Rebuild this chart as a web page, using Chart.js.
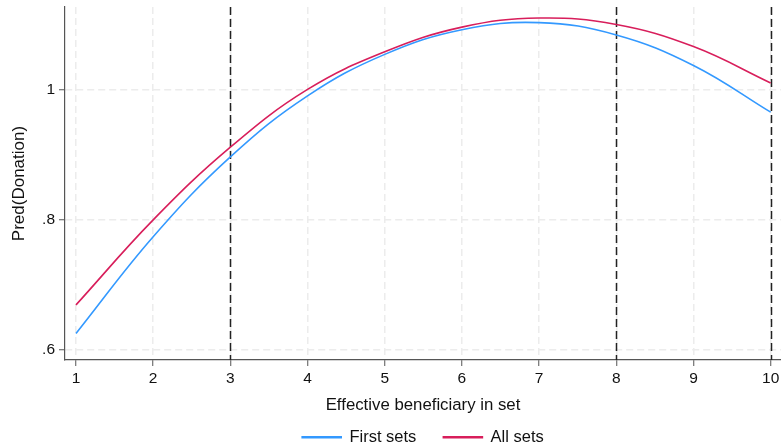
<!DOCTYPE html>
<html>
<head>
<meta charset="utf-8">
<script src="https://cdn.jsdelivr.net/npm/chart.js@4"></script>
<style>
  html, body { margin: 0; padding: 0; background: #fff; }
  #wrap { width: 781px; height: 447px; }
</style>
</head>
<body>
<div id="wrap"><canvas id="grafico" width="781" height="447"></canvas></div>
<script>
// valores
const beneficiarios = [1, 2, 3, 4, 5, 6, 7, 8, 9, 10];
const primeirosSets = [0.625, 0.774, 0.897, 0.991, 1.055, 1.093, 1.104, 1.085, 1.038, 0.966];
const todosSets = [0.669, 0.800, 0.912, 1.001, 1.059, 1.097, 1.111, 1.101, 1.067, 1.011];
const xTicks = [1, 2, 3, 4, 5, 6, 7, 8, 9, 10];
const yTicks = [0.6, 0.8, 1.0];
const linhasRef = [3, 8, 10];

const fonte = "'Liberation Sans', Arial, Helvetica, sans-serif";

function pontos(valores) {
    return beneficiarios.map((x, i) => ({ x: x, y: valores[i] }));
}

// linhas verticais tracejadas (pretas)
const pluginLinhas = {
    id: 'linhasRef',
    beforeDatasetsDraw(chart) {
        const { ctx, chartArea, scales } = chart;
        ctx.save();
        ctx.strokeStyle = '#222';
        ctx.lineWidth = 1.5;
        ctx.setLineDash([8, 4]);
        linhasRef.forEach(v => {
            const px = Math.round(scales.x.getPixelForValue(v)) + 0.5;
            ctx.beginPath();
            ctx.moveTo(px, chartArea.top);
            ctx.lineTo(px, chartArea.bottom);
            ctx.stroke();
        });
        ctx.restore();
    }
};

const ctx = document.getElementById('grafico').getContext('2d');
new Chart(ctx, {
    type: 'line',
    data: {
        datasets: [
            {
                label: 'First sets',
                data: pontos(primeirosSets),
                borderColor: '#3399ff',
                backgroundColor: '#3399ff',
                borderWidth: 1.6,
                pointRadius: 0,
                tension: 0.4
            },
            {
                label: 'All sets',
                data: pontos(todosSets),
                borderColor: '#d81e5b',
                backgroundColor: '#d81e5b',
                borderWidth: 1.6,
                pointRadius: 0,
                tension: 0.4
            }
        ]
    },
    options: {
        responsive: false,
        animation: false,
        layout: { padding: { top: 7, right: 0, bottom: 0, left: 0 } },
        plugins: {
            tooltip: { enabled: false },
            legend: {
                position: 'bottom',
                fullSize: false,
                maxHeight: 45,
                labels: {
                    color: '#111',
                    font: { family: fonte, size: 16.5 },
                    boxWidth: 39,
                    boxHeight: 1,
                    padding: 27
                }
            }
        },
        scales: {
            x: {
                type: 'linear',
                min: 0.8575,
                max: 10.134,
                afterBuildTicks: s => { s.ticks = xTicks.map(v => ({ value: v })); },
                afterFit: s => { s.height = 42; s.paddingLeft = 0; s.paddingRight = 0; },
                grid: {
                    color: '#ececec',
                    lineWidth: 1.5,
                    tickColor: '#555',
                    tickLength: 6,
                    tickWidth: 1
                },
                border: { color: '#555', width: 1.2, dash: [7, 4] },
                ticks: {
                    color: '#111',
                    font: { family: fonte, size: 15.5 },
                    padding: 3,
                    maxRotation: 0
                },
                title: {
                    display: true,
                    text: 'Effective beneficiary in set',
                    color: '#111',
                    font: { family: fonte, size: 16.8 },
                    padding: { top: 0, bottom: -13 }
                }
            },
            y: {
                min: 0.5841,
                max: 1.128,
                afterBuildTicks: s => { s.ticks = yTicks.map(v => ({ value: v })); },
                afterFit: s => { s.width = 65; s.paddingTop = 0; s.paddingBottom = 0; },
                grid: {
                    color: '#ececec',
                    lineWidth: 1.5,
                    tickColor: '#555',
                    tickLength: 6,
                    tickWidth: 1
                },
                border: { color: '#555', width: 1.2, dash: [7, 4] },
                ticks: {
                    color: '#111',
                    font: { family: fonte, size: 15.5 },
                    padding: 4,
                    callback: v => (v === 1 ? '1' : String(Math.round(v * 10) / 10).replace(/^0/, ''))
                },
                title: {
                    display: true,
                    text: 'Pred(Donation)',
                    color: '#111',
                    font: { family: fonte, size: 17 },
                    padding: { top: 9, bottom: 0 }
                }
            }
        }
    },
    plugins: [pluginLinhas]
});
</script>
</body>
</html>
